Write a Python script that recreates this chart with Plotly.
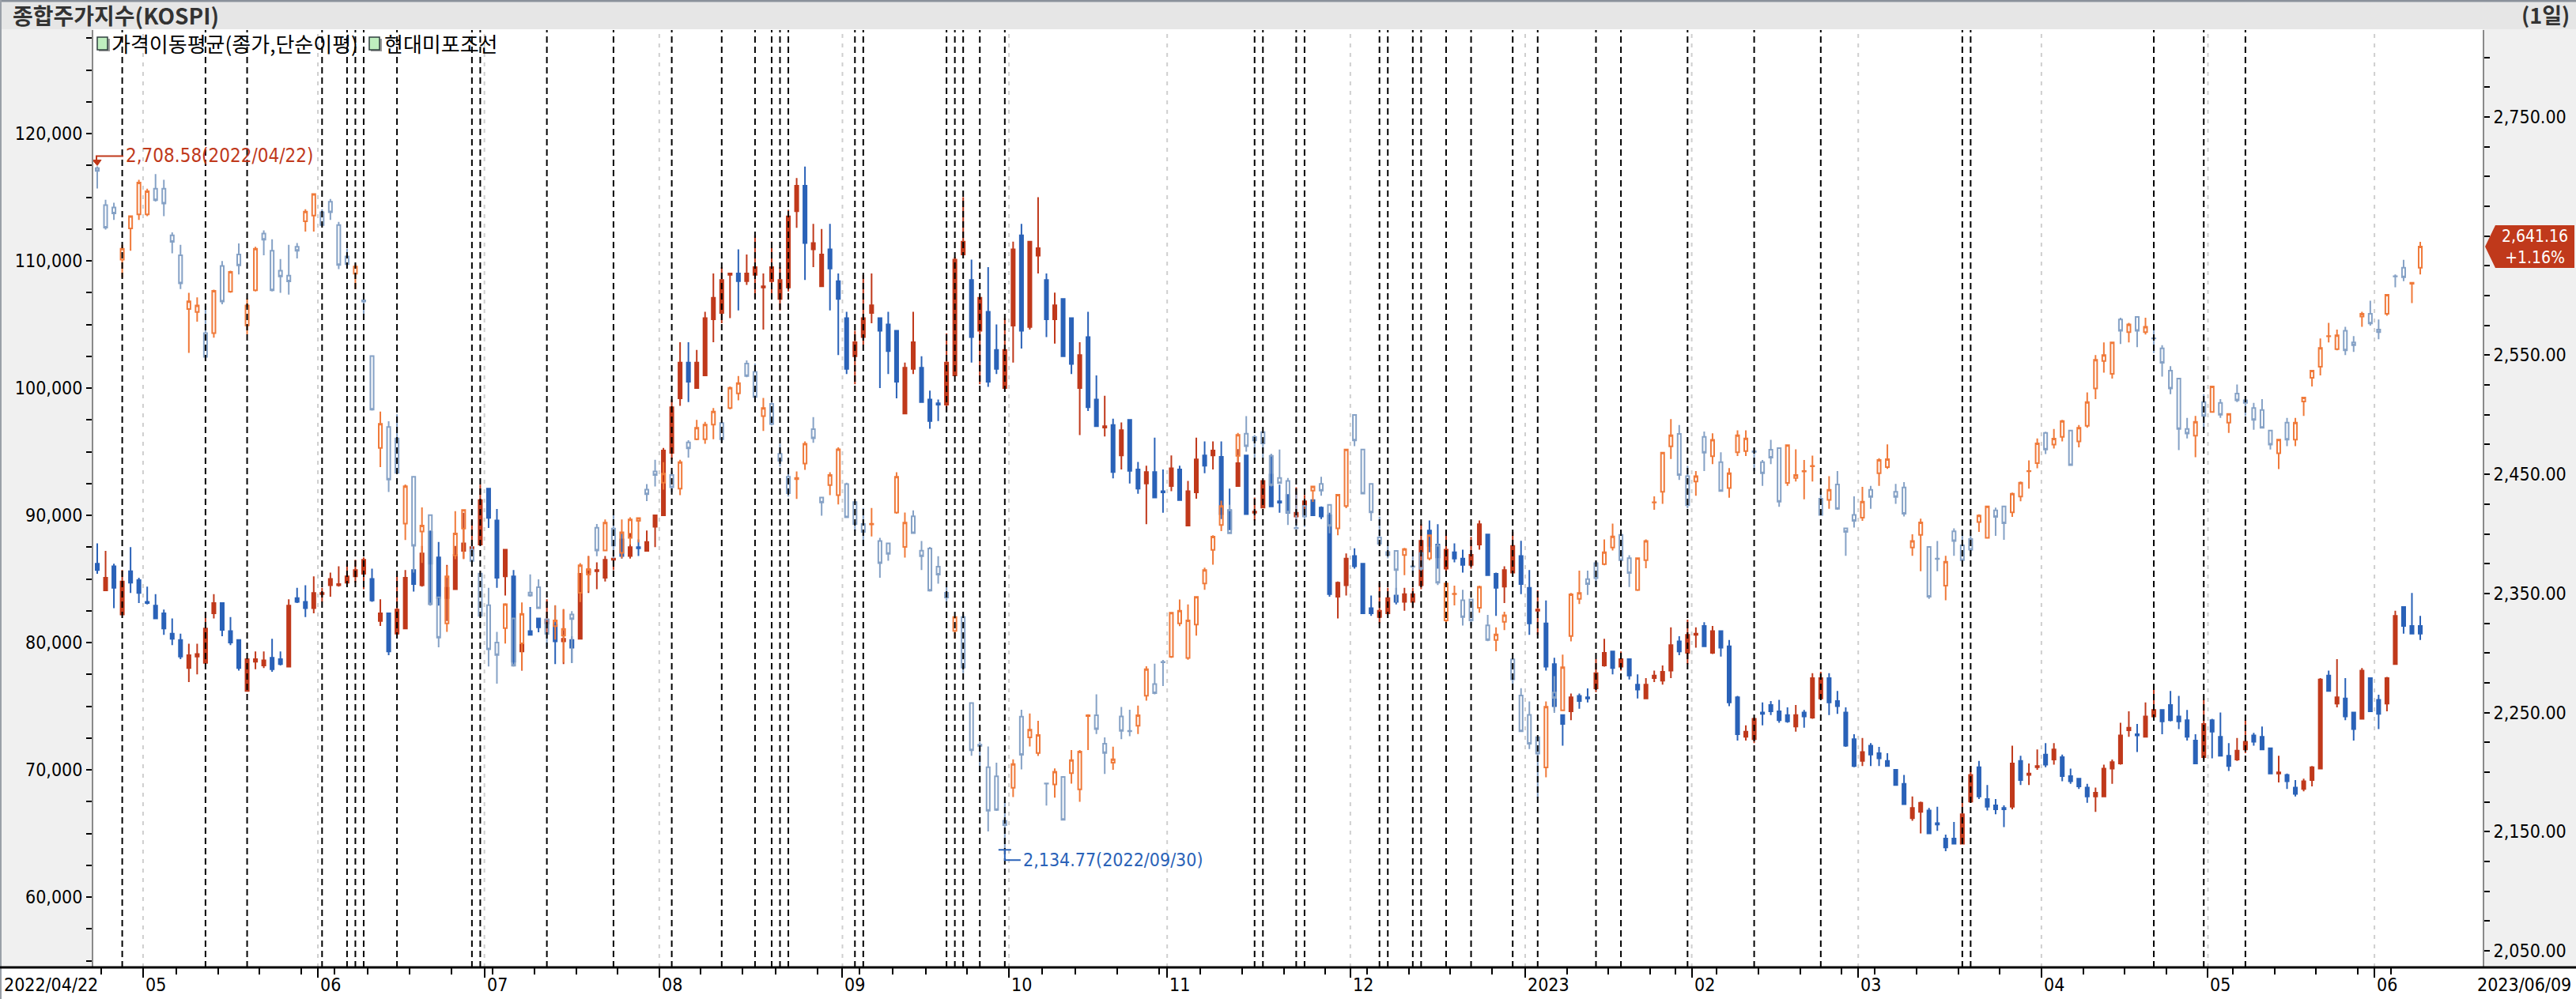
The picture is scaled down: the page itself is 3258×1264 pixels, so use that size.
import pandas as pd
import plotly.graph_objects as go

# ---------------- calendar (KRX trading days) ----------------
HOLIDAYS = ["2022-05-05", "2022-06-01", "2022-06-06", "2022-08-15", "2022-09-09",
            "2022-09-12", "2022-10-03", "2022-10-10", "2022-12-30", "2023-01-23",
            "2023-01-24", "2023-03-01", "2023-05-01", "2023-05-05", "2023-05-29",
            "2023-06-06"]
dates = [d for d in pd.bdate_range("2022-04-22", "2023-06-09")
         if d.strftime("%Y-%m-%d") not in HOLIDAYS]
N = len(dates)
x = list(range(N))
pos = {d.strftime("%Y-%m-%d"): i for i, d in enumerate(dates)}

# ---------------- KOSPI (right axis, hollow candles) ----------------
kospi_open = [
 2707.0,2676.0,2674.0,2630.3,2656.4,2668.3,2668.3,2689.8,2689.8,2650.6,
 2633.9,2588.8,2586.3,2568.6,2568.6,2624.9,2603.3,2634.5,2575.0,2604.6,
 2652.2,2637.7,2621.0,2616.8,2641.0,2662.5,2667.3,2670.0,2678.9,2659.3,
 2632.9,2618.4,2596.0,2549.3,2472.1,2489.8,2480.1,2408.7,2448.0,2402.0,
 2415.8,2346.7,2324.8,2382.0,2404.5,2386.8,2366.6,2340.2,2308.7,2320.9,
 2329.0,2308.1,2350.8,2355.3,2328.3,2322.5,2314.5,2332.4,2350.5,2365.9,
 2405.2,2386.0,2404.4,2384.0,2396.7,2411.0,2437.1,2452.5,2442.9,2449.5,
 2438.0,2476.8,2479.5,2479.5,2491.8,2493.0,2505.7,2518.0,2543.0,2536.1,
 2498.8,2509.2,2467.2,2447.9,2446.0,2459.1,2488.0,2430.6,2441.0,2432.5,
 2441.8,2426.7,2408.3,2408.0,2394.0,2392.1,2417.9,2389.0,2414.8,2385.9,
 2387.8,2372.4,2350.5,2318.5,2330.1,2258.0,2223.0,2204.1,2196.4,2159.1,
 2186.8,2246.5,2229.2,2216.1,2190.5,2189.7,2196.0,2199.2,2185.5,2247.0,
 2247.7,2223.8,2208.0,2246.7,2234.6,2238.9,2264.2,2274.0,2292.5,2296.9,
 2324.9,2295.8,2323.9,2358.4,2386.5,2407.5,2419.8,2465.5,2484.1,2481.3,
 2485.5,2465.5,2446.9,2444.4,2405.0,2423.4,2436.3,2442.0,2424.4,2404.7,
 2423.4,2499.9,2470.8,2442.0,2397.0,2384.7,2385.7,2382.3,2372.8,2383.9,
 2379.4,2390.0,2327.4,2349.4,2344.3,2345.0,2338.0,2323.2,2311.0,2326.2,
 2294.7,2264.3,2248.0,2229.3,2203.9,2266.8,2251.8,2314.2,2345.4,2362.1,
 2375.4,2374.6,2388.6,2399.1,2379.6,2352.9,2377.9,2426.4,2435.3,2473.5,
 2484.0,2448.5,2444.0,2481.5,2465.2,2460.3,2438.5,2468.5,2469.5,2469.3,
 2460.3,2470.7,2472.0,2442.8,2447.0,2452.5,2456.8,2429.5,2428.5,2441.5,
 2404.6,2416.0,2413.6,2437.0,2451.0,2456.0,2435.3,2439.0,2388.6,2399.1,
 2389.1,2379.2,2356.6,2402.1,2390.4,2395.7,2409.9,2396.7,2419.8,2423.0,
 2418.1,2431.3,2452.6,2459.4,2484.8,2474.9,2481.5,2486.8,2477.6,2490.8,
 2522.1,2545.2,2534.3,2579.9,2569.3,2582.2,2569.3,2564.2,2555.8,2537.0,
 2530.4,2488.1,2482.5,2510.6,2502.3,2509.9,2493.4,2517.8,2512.2,2505.6,
 2504.0,2486.8,2467.7,2493.4,2479.2,2511.2,2531.0,2540.3,2565.8,2555.1,
 2570.6,2560.7,2582.5,2584.8,2571.6,2584.8,2616.3,2623.5,2610.0,2623.5]
kospi_high = [
 2708.58,2680.5,2678.0,2642.6,2667.3,2697.2,2689.8,2702.0,2697.2,2653.2,
 2642.6,2602.4,2598.5,2591.1,2605.0,2629.0,2621.0,2643.8,2597.5,2641.0,
 2654.8,2647.4,2630.7,2642.6,2644.2,2672.5,2686.0,2672.5,2681.2,2661.9,
 2639.3,2626.5,2602.4,2550.0,2502.6,2494.6,2500.4,2441.5,2448.5,2422.2,
 2416.5,2347.5,2373.0,2419.0,2420.6,2390.0,2367.0,2354.7,2317.7,2341.8,
 2329.5,2342.5,2366.0,2361.8,2329.0,2340.2,2337.0,2335.1,2375.5,2381.3,
 2408.3,2412.1,2416.7,2412.1,2414.0,2414.0,2441.8,2462.2,2460.2,2452.5,
 2462.2,2478.7,2495.7,2494.1,2505.7,2494.1,2523.8,2532.6,2545.7,2543.0,
 2514.2,2510.3,2475.7,2453.7,2452.5,2477.6,2498.0,2431.0,2451.8,2472.6,
 2443.0,2427.5,2421.7,2421.7,2396.7,2392.5,2451.8,2417.9,2419.8,2394.0,
 2389.0,2381.3,2358.2,2330.5,2332.4,2258.5,2225.3,2221.5,2208.0,2175.3,
 2210.7,2252.3,2249.2,2243.1,2191.0,2203.1,2196.5,2218.6,2218.6,2248.5,
 2265.3,2229.1,2221.3,2254.7,2252.3,2255.8,2288.8,2291.0,2294.1,2334.5,
 2345.0,2340.8,2347.5,2371.7,2398.8,2427.9,2424.4,2484.8,2498.9,2483.1,
 2486.0,2467.2,2470.8,2446.9,2435.7,2425.8,2440.3,2447.9,2425.0,2433.3,
 2471.3,2500.6,2471.3,2442.5,2414.6,2394.2,2386.2,2388.2,2381.2,2386.4,
 2399.3,2392.0,2360.0,2356.6,2353.1,2345.5,2356.5,2332.0,2321.5,2334.7,
 2295.2,2270.5,2259.3,2229.8,2259.3,2280.5,2298.7,2350.4,2369.1,2369.1,
 2377.1,2395.3,2408.6,2403.6,2382.1,2380.1,2395.3,2431.5,2468.7,2496.4,
 2491.4,2457.0,2452.8,2486.0,2484.5,2468.5,2455.3,2487.0,2487.0,2472.0,
 2462.0,2479.0,2472.5,2475.0,2471.0,2462.0,2465.7,2435.3,2448.5,2452.8,
 2405.0,2431.5,2439.5,2440.3,2463.5,2475.2,2442.0,2443.5,2399.6,2412.8,
 2389.6,2394.1,2381.6,2404.6,2402.1,2398.3,2416.5,2423.5,2422.1,2423.5,
 2434.6,2443.9,2461.7,2480.2,2485.8,2488.1,2495.7,2487.3,2491.4,2518.8,
 2550.2,2560.7,2561.2,2581.5,2577.2,2582.7,2581.5,2573.3,2558.4,2540.9,
 2530.9,2497.4,2499.0,2517.2,2524.3,2513.2,2501.3,2525.4,2515.5,2509.9,
 2513.2,2487.3,2479.7,2497.4,2497.4,2515.0,2537.6,2564.0,2577.2,2571.6,
 2573.9,2566.0,2586.5,2595.7,2579.9,2601.3,2617.8,2630.0,2611.3,2645.2]
kospi_low = [
 2690.0,2655.5,2663.5,2615.2,2637.7,2663.5,2666.7,2679.0,2666.7,2635.5,
 2605.6,2551.9,2578.2,2546.7,2564.7,2592.7,2602.4,2617.8,2567.6,2603.5,
 2633.9,2603.5,2602.4,2600.8,2631.3,2653.8,2653.8,2658.5,2663.5,2622.3,
 2622.6,2605.6,2583.1,2503.5,2456.0,2435.1,2450.5,2394.9,2367.5,2375.6,
 2340.0,2304.8,2317.7,2378.8,2378.8,2375.6,2330.5,2288.7,2274.3,2308.0,
 2288.5,2285.5,2347.3,2337.0,2304.8,2311.3,2292.0,2291.6,2342.8,2351.6,
 2381.3,2385.5,2379.4,2379.4,2391.0,2392.9,2427.5,2439.8,2437.1,2435.2,
 2432.5,2464.1,2478.7,2475.6,2479.5,2476.8,2504.5,2512.2,2531.5,2511.0,
 2486.4,2491.0,2456.4,2431.4,2429.4,2453.7,2476.4,2415.2,2432.5,2424.8,
 2413.3,2402.5,2391.0,2397.9,2363.2,2377.5,2417.0,2380.1,2400.0,2369.7,
 2351.6,2358.2,2342.8,2312.0,2283.0,2213.8,2200.0,2150.2,2167.5,2134.77,
 2179.1,2202.2,2221.5,2213.6,2172.0,2178.5,2159.5,2190.4,2175.0,2218.6,
 2231.9,2198.5,2202.0,2227.7,2230.2,2232.0,2260.0,2265.3,2272.3,2295.8,
 2322.5,2294.4,2314.5,2353.0,2374.2,2402.3,2400.0,2460.2,2469.0,2462.0,
 2463.7,2439.8,2442.2,2407.5,2404.0,2405.8,2426.9,2432.1,2400.5,2398.8,
 2421.6,2473.6,2433.5,2411.0,2390.0,2379.4,2342.6,2365.4,2367.1,2368.9,
 2377.7,2357.0,2326.0,2340.0,2323.0,2323.0,2333.8,2310.0,2301.5,2319.2,
 2274.2,2233.8,2219.3,2178.1,2195.6,2249.8,2251.3,2309.7,2341.2,2348.7,
 2356.1,2373.6,2386.1,2372.1,2355.4,2352.1,2371.1,2420.3,2425.3,2462.8,
 2445.3,2421.6,2432.0,2452.8,2458.5,2435.5,2430.3,2465.3,2465.3,2452.8,
 2440.3,2458.5,2422.8,2440.3,2444.0,2429.0,2444.0,2415.3,2421.0,2420.3,
 2381.6,2405.3,2411.0,2421.0,2440.3,2454.5,2425.3,2414.6,2381.6,2368.6,
 2345.4,2368.6,2344.2,2381.6,2376.1,2381.8,2401.6,2396.2,2398.3,2395.0,
 2414.2,2427.4,2438.0,2455.1,2467.0,2471.6,2477.6,2457.1,2472.6,2489.1,
 2513.2,2535.3,2530.4,2559.4,2560.7,2556.8,2567.3,2551.8,2532.1,2517.2,
 2470.3,2480.2,2464.4,2488.1,2502.0,2497.4,2484.8,2510.6,2499.0,2487.5,
 2488.6,2470.9,2454.4,2473.6,2473.6,2499.0,2523.8,2533.0,2560.7,2554.1,
 2550.2,2552.8,2573.9,2574.9,2563.4,2583.2,2607.0,2612.2,2593.8,2617.8]
kospi_close = [
 2704.71,2657.1,2669.0,2639.3,2666.7,2695.0,2687.6,2680.2,2677.3,2645.1,
 2610.4,2595.3,2591.7,2548.6,2604.0,2595.0,2620.0,2625.5,2591.7,2639.3,
 2647.0,2604.6,2616.2,2612.0,2637.7,2670.5,2685.3,2659.3,2670.0,2625.8,
 2626.5,2624.5,2595.0,2504.3,2492.4,2445.7,2451.2,2440.0,2390.1,2407.0,
 2340.9,2312.9,2364.3,2400.4,2420.0,2377.2,2331.2,2303.2,2298.4,2340.9,
 2289.4,2332.8,2348.3,2337.6,2316.1,2327.3,2320.2,2328.5,2373.6,2370.5,
 2386.0,2409.4,2390.2,2401.3,2412.1,2413.3,2433.3,2449.5,2450.6,2439.1,
 2460.2,2471.8,2489.1,2491.8,2502.6,2479.5,2522.6,2526.5,2532.6,2515.0,
 2505.7,2492.2,2461.4,2434.1,2447.0,2475.7,2480.3,2426.3,2449.5,2471.0,
 2414.0,2408.3,2401.7,2408.5,2375.5,2383.2,2447.9,2409.4,2400.6,2381.3,
 2352.4,2365.9,2346.6,2330.1,2287.7,2218.4,2222.0,2167.6,2168.3,2155.5,
 2206.8,2214.5,2235.7,2231.2,2190.3,2200.3,2159.9,2210.1,2217.2,2247.7,
 2236.1,2216.1,2210.8,2234.7,2234.3,2247.7,2286.4,2266.3,2292.2,2333.8,
 2335.5,2327.4,2347.1,2369.6,2397.7,2423.4,2400.5,2483.1,2473.6,2478.5,
 2476.0,2440.9,2442.7,2418.1,2404.7,2414.6,2439.8,2436.3,2406.8,2432.8,
 2470.8,2478.5,2433.9,2418.1,2391.7,2382.3,2369.6,2387.2,2372.4,2370.6,
 2398.8,2359.0,2358.4,2349.8,2330.2,2327.4,2355.6,2310.9,2315.5,2331.7,
 2278.0,2234.3,2223.8,2215.6,2254.8,2262.3,2288.0,2349.2,2350.4,2357.9,
 2362.9,2384.6,2397.8,2377.9,2367.1,2379.6,2394.1,2426.6,2468.2,2482.7,
 2449.5,2424.0,2448.5,2468.2,2479.0,2436.0,2451.0,2482.7,2480.2,2468.9,
 2451.0,2464.0,2427.0,2474.5,2449.5,2452.8,2457.0,2416.0,2437.0,2421.0,
 2401.6,2411.0,2427.0,2431.0,2462.0,2462.7,2431.0,2417.0,2394.1,2409.6,
 2347.2,2379.0,2376.6,2394.1,2377.9,2386.8,2415.5,2423.0,2414.2,2408.9,
 2433.6,2442.9,2452.8,2475.9,2470.9,2479.9,2494.7,2457.8,2489.1,2510.6,
 2546.2,2550.2,2560.7,2570.6,2575.9,2570.6,2573.9,2564.0,2543.6,2522.1,
 2488.1,2484.2,2494.1,2499.0,2523.8,2500.0,2500.7,2512.2,2509.9,2495.7,
 2489.1,2474.9,2479.2,2479.2,2493.4,2514.5,2537.0,2556.1,2566.0,2566.7,
 2554.1,2558.4,2584.8,2576.6,2569.3,2600.7,2616.2,2615.5,2610.85,2641.16]

# ---------------- 현대미포조선 (left axis, solid candles) ----------------
mipo_open = [
 86200,84100,86000,82200,85600,84900,83200,82900,82300,80700,
 80200,78000,78900,78400,82300,83100,80900,80200,76200,78500,
 78200,78800,78700,78100,83500,83200,82700,83800,84500,84500,
 84700,85200,85400,85000,81700,82300,80700,81100,85700,84500,
 88700,86700,83500,84200,87200,87200,87700,92100,89600,85200,
 85200,79300,80900,81900,81500,81400,80100,80200,80300,85500,
 85600,85100,86500,88100,86800,87500,87200,89100,90000,94900,
 99200,102000,100000,101000,105400,105900,108900,109000,108400,108900,
 107900,108400,107000,107900,113900,115900,110900,108000,110900,108400,
 105500,102500,104000,105900,105500,105000,104500,98000,101500,101600,
 99100,98800,98700,101000,110500,108500,104500,106000,103000,100000,
 104900,112000,104800,110400,108500,105400,107000,105500,100000,104000,
 99100,96900,97100,94700,97500,93600,92500,93400,91900,92300,
 93600,89200,91800,94700,94700,94600,90400,92300,94700,90200,
 90600,93200,91100,91600,89900,90100,91200,90600,90000,83600,
 84500,86800,86200,82700,82000,82300,83700,83200,83200,84500,
 88800,87700,85800,87100,86600,86100,87700,88500,85400,84400,
 85500,86800,84300,82500,81500,78300,74300,74600,75800,75700,
 76400,78200,79300,78100,78700,76700,75600,77200,77000,77800,
 80100,79200,80600,81300,79200,80900,79700,75700,72600,72400,
 74500,75100,74600,74300,73400,74500,74100,75600,77200,75400,
 74500,72400,70700,71900,71300,70700,70000,68900,66200,66700,
 66800,65800,64600,64600,64200,67500,70200,67700,67200,67000,
 67100,70700,69600,70200,71200,70800,71000,69500,69300,68600,
 67900,67900,70100,70500,73100,72800,72600,74200,74700,75100,
 74200,73900,72300,71000,73900,72600,71100,70800,71600,72700,
 72600,71700,69700,69600,68600,68500,69200,70100,77400,75200,
 75600,74500,74000,77200,75500,75200,78300,82800,81300,81300]
mipo_high = [
 87800,87200,86200,85700,87500,85100,84400,83800,82600,81900,
 80700,79900,79900,82400,83800,83100,82000,80200,78700,79300,
 79300,80300,79300,83400,84300,84500,85200,84300,85500,86000,
 86200,86500,86700,85800,83400,82300,85200,85700,87600,87600,
 88800,87900,86100,87600,90200,89600,92400,92100,90500,87300,
 85700,79900,82800,81900,83400,82900,82600,80500,85400,86800,
 86300,86800,87300,88600,88600,88100,88800,90000,95300,99100,
 103600,103600,103000,106000,109000,109500,109000,110900,110500,112000,
 109000,111500,109500,114000,116500,117400,112900,112500,112900,109000,
 106000,104500,108900,109000,105500,106000,104500,102000,106000,102500,
 99800,99100,104300,110300,115000,110100,107100,109500,105000,105500,
 111500,112900,111500,115000,109000,107500,107000,105500,103600,106000,
 101000,99400,97600,97300,97500,94200,93900,96100,93600,94700,
 93900,92700,96100,95800,95800,95800,92100,95200,94700,91400,
 92700,94800,92400,91600,92200,91600,91200,90700,90200,84800,
 87000,87400,86200,83700,84700,84300,84300,84300,84300,89300,
 89600,89300,88800,87800,87300,88300,89600,88500,85500,86000,
 88700,88000,85700,84100,83300,78800,74300,76000,76000,76400,
 78700,80300,79300,79300,78700,77500,77200,77800,78200,81200,
 80500,81800,81200,81600,81300,80900,80200,75800,73500,74100,
 75300,75400,75500,74900,75100,74700,77600,77700,77600,76200,
 74900,72800,72500,72100,71800,71300,70000,69600,67900,67500,
 67000,67100,64900,65900,67900,70300,70700,68800,67700,67200,
 71900,71100,70500,71600,72100,72100,71200,70100,69300,68900,
 68600,70400,70800,73700,74600,73600,75300,76300,74700,76200,
 75800,74700,72800,75500,74000,74500,72100,72500,73900,72900,
 73400,71700,71100,69700,69200,69300,70300,77200,77800,78700,
 77200,74500,78000,77200,75900,77300,82500,82800,83900,82100]
mipo_low = [
 85400,84100,82700,82200,83900,83100,83000,81900,80600,79800,
 78700,76900,77500,78400,81900,80500,79800,77800,76200,77900,
 78000,77700,78200,78100,83100,82000,82300,83200,83600,84400,
 84700,84700,84200,83200,81300,79000,80700,81100,84000,84400,
 82900,82900,81700,84200,86600,87200,87700,89000,84300,83700,
 78200,77800,80600,80800,80700,78300,78300,78400,80300,83900,
 84200,84800,85700,86600,86600,86800,87200,87500,90000,94400,
 98600,98900,100000,101000,103600,105100,105500,106100,108100,107100,
 104600,107100,106100,107600,112600,108500,109500,108000,106100,102600,
 101100,100300,103400,105100,100000,101100,99200,98000,101100,98900,
 96800,97400,98200,101000,110500,102000,100300,100100,101100,100000,
 102000,103100,104600,109000,104000,103500,102500,101100,96300,98200,
 97000,96200,92900,93600,92500,91700,89300,91400,90200,91900,
 91200,89200,91300,93300,93600,89700,88900,92300,90100,89600,
 90600,90700,90200,90200,89400,89900,90000,89700,83600,81900,
 83700,85800,82300,82100,81500,82300,83000,82500,82700,84200,
 87100,85800,85500,86300,85500,85800,87300,85300,82100,83100,
 85500,83800,80600,80600,77800,74600,71900,73900,74800,75300,
 76100,78100,77500,77800,77100,75600,75600,76900,76700,77200,
 79000,78300,79600,79700,79100,78900,75000,72300,72300,72100,
 73500,74300,73700,73700,73000,73300,74000,75600,74300,74400,
 71800,70200,70300,70300,70300,70300,68800,67300,66000,65000,
 65000,65200,63600,64200,64200,67400,67700,66800,66500,65500,
 66900,68800,68800,70000,70200,70400,69100,68900,68500,67400,
 66700,67900,68900,70400,72600,71400,72600,74200,72800,73800,
 73200,72300,70500,70800,70900,71100,69900,70700,71300,71900,
 71600,69700,69000,68500,67900,68300,68700,70100,76200,74900,
 73900,72300,74000,74600,73200,74600,78300,80700,80700,80200]
mipo_close = [
 85700,85100,84300,84800,84700,83900,83100,81900,81100,80300,
 78900,79000,79100,81100,83100,81000,80000,78000,78700,78700,
 78600,77900,78300,82900,83200,82700,83900,83900,85000,84600,
 85200,85700,86500,83300,82300,79300,82600,85100,84600,87000,
 86200,83500,84300,86900,87800,87500,91200,89800,85100,87300,
 78500,79900,80600,81200,81800,80100,80300,79600,85400,85700,
 85700,86500,86600,86800,87500,87400,87900,90000,95100,98500,
 102000,100500,102000,105500,107100,108500,109000,108400,109000,109500,
 108000,109500,108500,113500,115900,111400,111400,110500,109400,107000,
 101500,103600,105500,106500,104500,102900,100500,101600,103600,98900,
 97400,98700,102000,110100,111500,104000,107100,100500,101500,103000,
 110900,104500,111500,111000,105400,106500,102500,101900,102600,98500,
 97000,97000,93400,96700,93500,92100,93400,91400,91800,93700,
 91200,91900,94400,93900,95100,90100,88900,94100,90100,90300,
 92700,90700,91000,90200,90200,91100,90000,89900,83800,84700,
 86600,86000,82300,82300,82500,83500,83200,83800,83800,88000,
 87600,86700,87300,86600,86100,86900,89300,85300,84300,85700,
 87600,84600,81500,82600,78100,75000,73600,75700,75400,75600,
 77600,79200,78000,78700,77400,76300,76700,77400,77700,79800,
 79300,80600,80700,79700,80900,79600,75300,72800,73000,74000,
 74400,74600,73900,73800,74300,74200,77200,77200,75300,75000,
 71900,70300,71400,71200,70900,70300,68800,67300,67000,67400,
 65000,65700,63900,64200,66500,69600,67900,67100,66900,66900,
 70500,69200,69700,70300,70400,71600,69500,69100,68700,67900,
 68200,70100,70600,72700,73300,72700,74200,74700,73800,73900,
 73800,72600,70500,73600,73000,71100,70300,71500,72200,72200,
 71600,69700,69800,69100,68100,69100,70200,77100,76200,75700,
 74200,73200,77800,74600,74400,77200,82100,81300,80700,80700]

# signal days (black dashed verticals)
signal_dates = [
 "2022-04-27","2022-05-12","2022-05-19","2022-06-02","2022-06-08","2022-06-09",
 "2022-06-10","2022-06-16","2022-06-29","2022-06-30","2022-07-12","2022-07-22",
 "2022-08-02","2022-08-10","2022-08-17","2022-08-19","2022-08-22","2022-08-23",
 "2022-09-02","2022-09-05","2022-09-21","2022-09-22","2022-09-23","2022-09-27",
 "2022-09-30","2022-11-15","2022-11-16","2022-11-22","2022-11-23","2022-12-06",
 "2022-12-07","2022-12-12","2022-12-13","2022-12-16","2022-12-21","2022-12-28",
 "2023-01-03","2023-01-12","2023-01-17","2023-01-31","2023-02-10","2023-02-22",
 "2023-03-20","2023-03-21","2023-04-20","2023-04-28","2023-05-09"]

left_ticks = list(range(60000, 120001, 10000))
right_ticks = list(range(2050, 2751, 100))

# ---------------- geometry / style ----------------
W, H = 3258, 1264
PL, PR, PT, PB = 118, 3140, 38, 1224
def px(v): return (v - PL) / (PR - PL)
def py(v): return (PB - v) / (PB - PT)

RED = "#c0391b"
BLUE = "#2a62b8"
K_UP = "#f07a3a"
K_DN = "#86a2c6"
NUMFONT = "Liberation Sans Narrow, Arial Narrow, DejaVu Sans Condensed, Liberation Sans, sans-serif"
KRFONT = "Noto Sans CJK KR, Noto Sans, sans-serif"

month_starts = [i for i in range(1, N) if dates[i].month != dates[i - 1].month]
week_starts = [i for i in range(1, N)
               if dates[i].isocalendar()[1] != dates[i - 1].isocalendar()[1]]
month_labels = ["2023" if dates[i].month == 1 else dates[i].strftime("%m") for i in month_starts]

fig = go.Figure()
fig.add_trace(go.Candlestick(
    x=x, open=mipo_open, high=mipo_high, low=mipo_low, close=mipo_close,
    yaxis="y", name="현대미포조선", hoverinfo="skip", whiskerwidth=0,
    increasing=dict(line=dict(color=RED, width=2), fillcolor=RED),
    decreasing=dict(line=dict(color=BLUE, width=2), fillcolor=BLUE)))
fig.add_trace(go.Candlestick(
    x=x, open=kospi_open, high=kospi_high, low=kospi_low, close=kospi_close,
    yaxis="y2", name="KOSPI", hoverinfo="skip", whiskerwidth=0,
    increasing=dict(line=dict(color=K_UP, width=2), fillcolor="rgba(0,0,0,0)"),
    decreasing=dict(line=dict(color=K_DN, width=2), fillcolor="rgba(0,0,0,0)")))

shapes = []
# side panels and header
shapes.append(dict(type="rect", xref="paper", yref="paper", x0=px(0), x1=px(PL),
                   y0=py(PB), y1=py(37), fillcolor="#f0f0f0", line=dict(width=0), layer="below"))
shapes.append(dict(type="rect", xref="paper", yref="paper", x0=px(PR), x1=px(W),
                   y0=py(PB), y1=py(37), fillcolor="#f0f0f0", line=dict(width=0), layer="below"))
shapes.append(dict(type="rect", xref="paper", yref="paper", x0=px(0), x1=px(W),
                   y0=py(37), y1=py(0), fillcolor="#e6e6e6", line=dict(width=0), layer="below"))
shapes.append(dict(type="line", xref="paper", yref="paper", x0=px(0), x1=px(W),
                   y0=py(1), y1=py(1), line=dict(color="#8a919b", width=3)))
shapes.append(dict(type="line", xref="paper", yref="paper", x0=px(1), x1=px(1),
                   y0=py(H), y1=py(0), line=dict(color="#9aa0a8", width=2)))
# bottom axis line across full width
shapes.append(dict(type="line", xref="paper", yref="paper", x0=px(0), x1=px(W),
                   y0=0, y1=0, line=dict(color="black", width=3)))
# month separators (light grey dashed)
for i in month_starts:
    shapes.append(dict(type="line", xref="x", yref="paper", x0=i - 0.5, x1=i - 0.5,
                       y0=0, y1=1, line=dict(color="#cfcfcf", width=2, dash="5px,7px"),
                       layer="below"))
# signal lines (black dashed)
for d in signal_dates:
    i = pos[d]
    shapes.append(dict(type="line", xref="x", yref="paper", x0=i, x1=i, y0=0, y1=1,
                       line=dict(color="black", width=2, dash="8px,5px"), layer="above"))

# high / low markers
hi_i = max(range(N), key=lambda k: kospi_high[k])
lo_i = min(range(N), key=lambda k: kospi_low[k])
hi_v, lo_v = kospi_high[hi_i], kospi_low[lo_i]
shapes.append(dict(type="path", xref="x", yref="y2", xsizemode="pixel", ysizemode="pixel",
                   xanchor=hi_i, yanchor=hi_v, path="M -1,6 L -1,13 L 33,13",
                   line=dict(color=RED, width=2)))
shapes.append(dict(type="path", xref="x", yref="y2", xsizemode="pixel", ysizemode="pixel",
                   xanchor=hi_i, yanchor=hi_v, path="M -6,8 L 5,8 L 0,1 Z",
                   fillcolor=RED, line=dict(color=RED, width=1)))
shapes.append(dict(type="path", xref="x", yref="y2", xsizemode="pixel", ysizemode="pixel",
                   xanchor=lo_i, yanchor=lo_v, path="M -8,0 L 8,0 M 0,0 L 0,-13 L 20,-13",
                   line=dict(color=BLUE, width=2)))
# last price tag (covers the 2,650 tick label as in the original)
last = kospi_close[-1]
pct = (kospi_close[-1] / kospi_close[-2] - 1) * 100
shapes.append(dict(type="path", xref="paper", yref="y2", xsizemode="pixel", ysizemode="pixel",
                   xanchor=1, yanchor=last, path="M 3,0 L 16,27 L 116,27 L 116,-27 L 16,-27 Z",
                   fillcolor=RED, line=dict(width=0)))
# legend icons
for x0 in (123, 467):
    shapes.append(dict(type="rect", xref="paper", yref="paper", x0=px(x0 + 2), x1=px(x0 + 16),
                       y0=py(65), y1=py(49), fillcolor="#9a9a9a", line=dict(width=0)))
    shapes.append(dict(type="rect", xref="paper", yref="paper", x0=px(x0), x1=px(x0 + 13),
                       y0=py(63), y1=py(47), fillcolor="#bfeebf",
                       line=dict(color="#2f3f3f", width=1.5)))

ann = []
def text(xp, yp, s, size, color="black", anchor="left", family=NUMFONT):
    ann.append(dict(xref="paper", yref="paper", x=px(xp), y=py(yp), text=s, showarrow=False,
                    xanchor=anchor, yanchor="middle", font=dict(family=family, size=size, color=color)))

text(14, 19, "<b>종합주가지수(KOSPI)</b>", 28, "#333333", family=KRFONT)
text(3252, 19, "<b>(1일)</b>", 27, "#333333", anchor="right", family=KRFONT)
text(139, 55, "가격이동평균(종가,단순이평)", 26, family=KRFONT)
text(484, 55, "현대미포조선", 26, family=KRFONT)
text(3, 1246, dates[0].strftime("%Y/%m/%d"), 23)
text(3254, 1246, dates[-1].strftime("%Y/%m/%d"), 23, anchor="right")
for i, lab in zip(month_starts, month_labels):
    ann.append(dict(xref="x", yref="paper", x=i - 0.5, y=py(1246), text=lab, showarrow=False,
                    xanchor="left", yanchor="middle", xshift=1,
                    font=dict(family=NUMFONT, size=23, color="black")))
ann.append(dict(xref="x", yref="y2", x=hi_i, y=hi_v, xshift=34, yshift=13, showarrow=False,
                xanchor="left", yanchor="middle",
                text=f"{hi_v:,.2f}({dates[hi_i]:%Y/%m/%d})",
                font=dict(family=NUMFONT, size=24, color=RED)))
ann.append(dict(xref="x", yref="y2", x=lo_i, y=lo_v, xshift=21, yshift=-13, showarrow=False,
                xanchor="left", yanchor="middle",
                text=f"{lo_v:,.2f}({dates[lo_i]:%Y/%m/%d})",
                font=dict(family=NUMFONT, size=23, color=BLUE)))
ann.append(dict(xref="paper", yref="y2", x=1, y=last, xshift=66, showarrow=False,
                xanchor="center", yanchor="middle",
                text=f"{last:,.2f}<br>{pct:+.2f}%",
                font=dict(family=NUMFONT, size=21, color="white")))

# the 2,650 label sits under the price tag in the original, so leave it blank
right_text = ["" if abs(v - last) < 40 else f"{v:,.2f}" for v in right_ticks]

tickfont = dict(family=NUMFONT, size=23, color="black")
fig.update_layout(
    width=W, height=H, margin=dict(l=PL, r=W - PR, t=PT, b=H - PB, pad=0),
    paper_bgcolor="white", plot_bgcolor="white", showlegend=False,
    boxgap=0.45, hovermode=False,
    xaxis=dict(range=[-0.475, 286.5], showgrid=False, zeroline=False, showline=False,
               ticks="outside", tickvals=[i - 0.5 for i in month_starts], ticklen=12,
               tickwidth=2, tickcolor="black", showticklabels=False,
               minor=dict(ticks="outside", tickvals=[i - 0.5 for i in week_starts],
                          ticklen=8, tickwidth=2, tickcolor="black"),
               rangeslider=dict(visible=False), fixedrange=True),
    yaxis=dict(range=[54472, 128137], side="left", showgrid=False, zeroline=False,
               showline=True, linecolor="#8a8a8a", linewidth=2,
               tickvals=left_ticks, ticktext=[f"{v:,}" for v in left_ticks],
               ticks="outside", ticklen=7, tickwidth=2, tickcolor="black", tickfont=tickfont,
               minor=dict(ticks="outside", tick0=0, dtick=2500, ticklen=7, tickwidth=2,
                          tickcolor="black"), fixedrange=True),
    yaxis2=dict(range=[2036.07, 2822.99], side="right", overlaying="y", showgrid=False,
                zeroline=False, showline=True, linecolor="#8a8a8a", linewidth=2,
                tickvals=right_ticks, ticktext=right_text,
                ticks="outside", ticklen=7, tickwidth=2, tickcolor="black", tickfont=tickfont,
                minor=dict(ticks="outside", tick0=0, dtick=25, ticklen=7, tickwidth=2,
                           tickcolor="black"), fixedrange=True),
    shapes=shapes, annotations=ann,
)

# remove the page's default body margin so the figure sits flush in the window
fig.write_html("out.html", config={"displayModeBar": False},
               post_script="document.body.style.margin='0';document.body.style.overflow='hidden';")
